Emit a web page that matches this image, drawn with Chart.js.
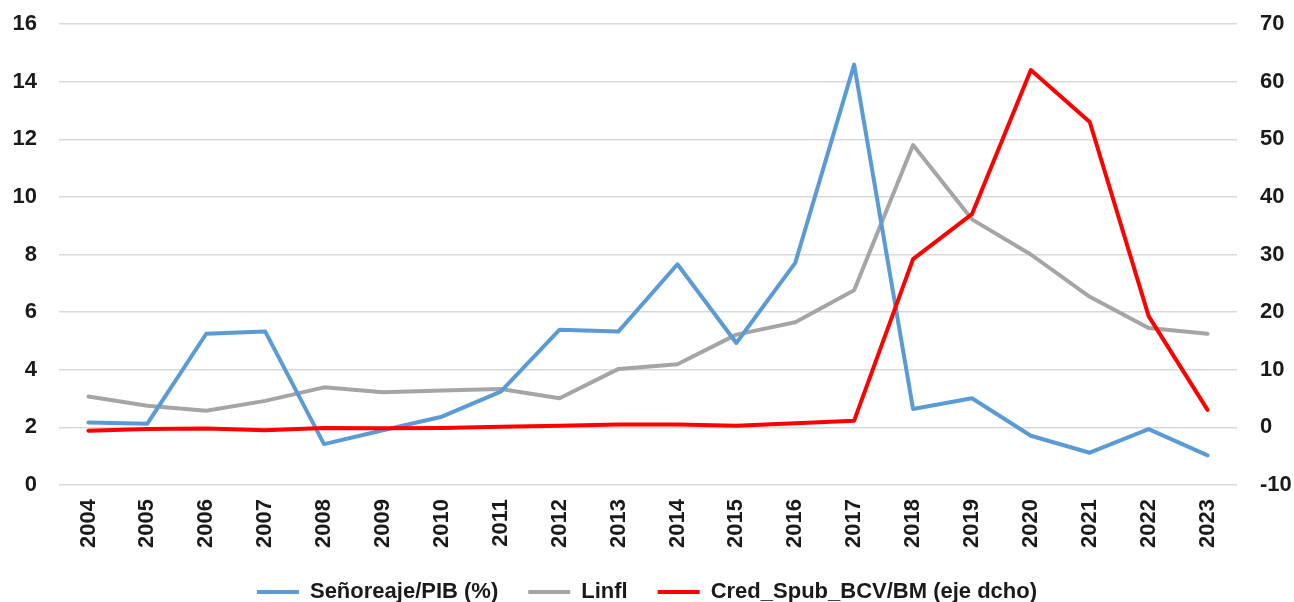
<!DOCTYPE html>
<html>
<head>
<meta charset="utf-8">
<script src="https://cdn.jsdelivr.net/npm/chart.js@4"></script>
<style>
  html, body { margin: 0; padding: 0; background: #fff; }
  #wrap { width: 1294px; height: 602px; }
</style>
</head>
<body>
<div id="wrap"><canvas id="chart"></canvas></div>
<script>
// Señoreaje, inflación y crédito al sector público (eje derecho)
const YEARS = ["2004","2005","2006","2007","2008","2009","2010","2011","2012","2013",
  "2014","2015","2016","2017","2018","2019","2020","2021","2022","2023"];

const SENOREAJE = [2.17, 2.13, 5.25, 5.33, 1.42, 1.9, 2.37, 3.24, 5.39, 5.33,
  7.66, 4.93, 7.71, 14.59, 2.64, 3.01, 1.71, 1.12, 1.94, 1.03];

const LINFL = [3.07, 2.75, 2.58, 2.92, 3.39, 3.22, 3.28, 3.33, 3.01, 4.03,
  4.19, 5.22, 5.65, 6.76, 11.8, 9.22, 8.0, 6.53, 5.45, 5.25];

const CRED_SPUB = [-0.57, -0.3, -0.2, -0.5, -0.1, -0.17, -0.1, 0.1, 0.3, 0.5,
  0.5, 0.3, 0.7, 1.17, 29.2, 37.0, 62.0, 53.0, 19.3, 3.03];

const LABELS = ["Señoreaje/PIB (%)", "Linfl", "Cred_Spub_BCV/BM (eje dcho)"];

const COLORS = {
  blue: "#5b9bd5",
  gray: "#a5a5a5",
  red: "#ff0000",
  grid: "#d9d9d9",
  text: "#1a1a1a",
};

const FONT = "'Liberation Sans', Arial, sans-serif";

function line(label, data, color, axis, order) {
  return {
    label, data, yAxisID: axis, order,
    borderColor: color, backgroundColor: color,
    borderWidth: 4, pointRadius: 0, tension: 0,
    borderJoinStyle: "round", borderCapStyle: "round",
  };
}

// ancho fijo de los ejes verticales, sin el margen extra que añade el padding de los ticks
function fixY(width) {
  return (s) => { s.width = width; s.paddingTop = 0; s.paddingBottom = 0; };
}

new Chart(document.getElementById("chart"), {
  type: "line",
  data: {
    labels: YEARS,
    datasets: [
      line(LABELS[0], SENOREAJE, COLORS.blue, "y", 1),
      line(LABELS[1], LINFL, COLORS.gray, "y", 2),
      line(LABELS[2], CRED_SPUB, COLORS.red, "y2", 0),
    ],
  },
  options: {
    responsive: true,
    maintainAspectRatio: false,
    animation: false,
    layout: { padding: { top: 24, left: 0, right: 0, bottom: -11 } },
    plugins: {
      tooltip: { enabled: false },
      legend: {
        position: "bottom",
        labels: {
          color: COLORS.text,
          font: { family: FONT, size: 22, weight: "bold" },
          boxWidth: 42,
          boxHeight: 4,
          padding: 30,
          sort: (a, b) => a.datasetIndex - b.datasetIndex,
          generateLabels: (chart) =>
            Chart.defaults.plugins.legend.labels.generateLabels(chart).map((l) => ({ ...l, lineWidth: 0 })),
        },
      },
    },
    scales: {
      x: {
        offset: true,
        grid: { display: false },
        border: { display: false },
        ticks: {
          color: COLORS.text, minRotation: 90, maxRotation: 90, padding: 6,
          font: { family: FONT, size: 22, weight: "bold" },
        },
        afterFit: (s) => { s.height = 66; },
      },
      y: {
        position: "left",
        min: 0, max: 16,
        grid: { color: COLORS.grid, lineWidth: 1.5, drawTicks: false },
        border: { display: false },
        ticks: {
          stepSize: 2, color: COLORS.text, padding: 22,
          font: { family: FONT, size: 22, weight: "bold" },
        },
        afterFit: fixY(59),
      },
      y2: {
        position: "right",
        min: -10, max: 70,
        grid: { display: false, drawTicks: false },
        border: { display: false },
        ticks: {
          stepSize: 10, color: COLORS.text, padding: 23,
          font: { family: FONT, size: 22, weight: "bold" },
        },
        afterFit: fixY(57),
      },
    },
  },
});
</script>
</body>
</html>
